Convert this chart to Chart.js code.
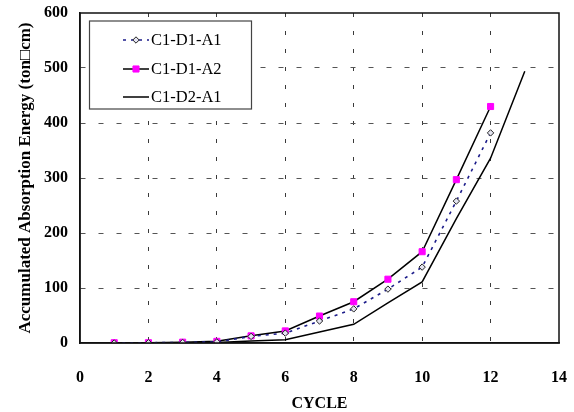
<!DOCTYPE html>
<html>
<head>
<meta charset="utf-8">
<script src="https://cdn.jsdelivr.net/npm/chart.js@4/dist/chart.umd.min.js"></script>
<style>
  html, body { margin: 0; padding: 0; background: #fff; }
  #wrap { width: 574px; height: 412px; }
</style>
</head>
<body>
<div id="wrap"><canvas id="energyChart"></canvas></div>
<script>
// データ
const cycles = [1, 2, 3, 4, 5, 6, 7, 8, 9, 10, 11, 12, 13];
const seriesNames = ['C1-D1-A1', 'C1-D1-A2', 'C1-D2-A1'];
const energyD1A1 = [0, 0.5, 1, 2, 12, 18, 40, 62, 98, 138, 258, 382];
const energyD1A2 = [0.5, 0.5, 1.5, 3, 13, 22, 49, 75, 116, 166, 297, 430];
const energyD2A1 = [0, 0, 0.5, 1, 3.5, 6, 20, 34, 73, 111, 226, 336, 494];
const xTicks = [0, 2, 4, 6, 8, 10, 12, 14];
const yTicks = [0, 100, 200, 300, 400, 500, 600];

const serif = '"Liberation Serif", "Times New Roman", serif';

function toPoints(values) {
    return values.map((v, i) => ({ x: cycles[i], y: v }));
}

// 枠線と凡例
const framePlugin = {
    id: 'frame',
    afterDatasetsDraw(chart) {
        const { ctx, chartArea: a } = chart;
        ctx.save();
        ctx.strokeStyle = '#111';
        ctx.lineWidth = 1.5;
        ctx.strokeRect(a.left, a.top, a.right - a.left, a.bottom - a.top);
        ctx.restore();
    },
    afterDraw(chart) {
        const ctx = chart.ctx;
        const box = { x: 89.5, y: 21, w: 162, h: 88 };
        ctx.save();
        ctx.fillStyle = '#fff';
        ctx.fillRect(box.x, box.y, box.w, box.h);
        ctx.strokeStyle = '#444';
        ctx.lineWidth = 1.2;
        ctx.strokeRect(box.x, box.y, box.w, box.h);

        const rows = [40, 69, 97];
        chart.data.datasets.forEach((ds, i) => {
            const y = rows[i];
            ctx.save();
            ctx.strokeStyle = ds.borderColor;
            ctx.lineWidth = ds.borderWidth;
            ctx.setLineDash(ds.borderDash || []);
            ctx.beginPath();
            ctx.moveTo(123, y);
            ctx.lineTo(149, y);
            ctx.stroke();
            ctx.restore();
            if (ds.pointRadius > 0) {
                ctx.fillStyle = ds.pointBackgroundColor;
                ctx.strokeStyle = ds.pointBorderColor;
                ctx.lineWidth = ds.pointBorderWidth;
                Chart.helpers.drawPoint(ctx, {
                    pointStyle: ds.pointStyle,
                    radius: ds.pointRadius,
                    borderWidth: ds.pointBorderWidth,
                    rotation: 0
                }, 136, y);
            }
            ctx.fillStyle = '#000';
            ctx.font = '16.5px ' + serif;
            ctx.textBaseline = 'middle';
            ctx.fillText(ds.label, 151, y + 1);
        });
        ctx.restore();
    }
};

const ctx = document.getElementById('energyChart').getContext('2d');
const energyChart = new Chart(ctx, {
    type: 'line',
    data: {
        datasets: [{
            label: seriesNames[0],
            data: toPoints(energyD1A1),
            borderColor: '#1c1c8a',
            borderWidth: 1.6,
            borderDash: [3, 5],
            pointStyle: 'rectRot',
            pointRadius: 3.2,
            pointBackgroundColor: '#e4e4f0',
            pointBorderColor: '#222',
            pointBorderWidth: 1,
            tension: 0
        }, {
            label: seriesNames[1],
            data: toPoints(energyD1A2),
            borderColor: '#000',
            borderWidth: 1.5,
            pointStyle: 'rect',
            pointRadius: 4.3,
            pointBackgroundColor: '#ff00ff',
            pointBorderColor: '#ff00ff',
            pointBorderWidth: 1,
            tension: 0
        }, {
            label: seriesNames[2],
            data: toPoints(energyD2A1),
            borderColor: '#000',
            borderWidth: 1.5,
            pointRadius: 0,
            tension: 0
        }]
    },
    options: {
        responsive: true,
        maintainAspectRatio: false,
        animation: false,
        layout: { padding: { top: 13, right: 15, left: 0, bottom: 0 } },
        plugins: {
            legend: { display: false },
            tooltip: { enabled: false }
        },
        scales: {
            x: {
                type: 'linear',
                min: 0,
                max: 14,
                afterBuildTicks: (scale) => { scale.ticks = xTicks.map(v => ({ value: v })); },
                afterFit: (scale) => { scale.height = 69; },
                ticks: {
                    color: '#000',
                    padding: 3,
                    font: { family: serif, size: 16, weight: 'bold' }
                },
                grid: {
                    drawTicks: true,
                    tickLength: 22,
                    tickColor: 'rgba(0,0,0,0)',
                    lineWidth: 1,
                    color: (c) => (c.tick && (c.tick.value === 0 || c.tick.value === 14)) ? 'rgba(0,0,0,0)' : '#3a3a3a'
                },
                border: { display: true, color: '#111', width: 1.5, dash: [4, 14] },
                title: {
                    display: true,
                    text: 'CYCLE',
                    color: '#000',
                    padding: { top: 0, bottom: 0 },
                    font: { family: serif, size: 16, weight: 'bold', lineHeight: 1 }
                }
            },
            y: {
                min: 0,
                max: 600,
                afterBuildTicks: (scale) => { scale.ticks = yTicks.map(v => ({ value: v })); },
                afterFit: (scale) => { scale.width = 80; },
                ticks: {
                    color: '#000',
                    padding: 3,
                    font: { family: serif, size: 16, weight: 'bold' }
                },
                grid: {
                    drawTicks: true,
                    tickLength: 9,
                    tickColor: 'rgba(0,0,0,0)',
                    lineWidth: 1,
                    color: (c) => (c.tick && (c.tick.value === 0 || c.tick.value === 600)) ? 'rgba(0,0,0,0)' : '#555'
                },
                border: { display: true, color: '#111', width: 1.5, dash: [5, 13] },
                title: {
                    display: true,
                    text: 'Accumulated Absorption Energy (ton\u25A1cm)',
                    color: '#000',
                    padding: { top: 15, bottom: 0 },
                    font: { family: serif, size: 17, weight: 'bold' }
                }
            }
        }
    },
    plugins: [framePlugin]
});
</script>
</body>
</html>
